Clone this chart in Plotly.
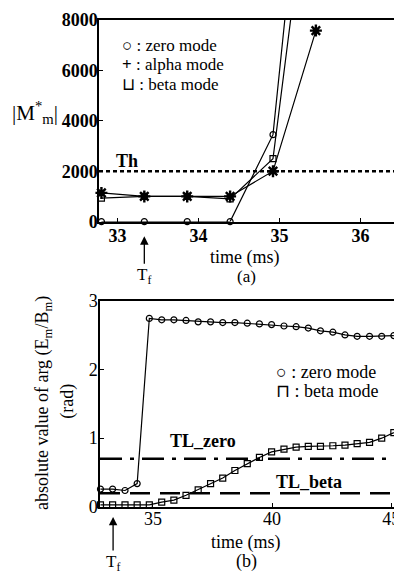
import plotly.graph_objects as go

# ---- data: panel (a) ----
t_a = [32.8, 33.33, 33.86, 34.39, 34.92, 35.45]
zero_a = [0, 0, 0, 0, 3450, 20000]
alpha_a = [1140, 1000, 1000, 1000, 2000, 7580]
beta_a = [930, 1000, 1000, 900, 2500, 15900]
th_a = 2000

# ---- data: panel (b) ----
t_b = [32.8, 33.31, 33.83, 34.34, 34.85, 35.37, 35.88, 36.39, 36.9, 37.42,
       37.93, 38.44, 38.96, 39.47, 39.98, 40.5, 41.01, 41.52, 42.03, 42.55,
       43.06, 43.57, 44.09, 44.6, 45.11]
zero_b = [0.26, 0.26, 0.24, 0.34, 2.74, 2.72, 2.72, 2.71, 2.69, 2.69,
          2.68, 2.68, 2.67, 2.66, 2.65, 2.63, 2.62, 2.60, 2.56, 2.54,
          2.50, 2.48, 2.48, 2.48, 2.49]
beta_b = [0.03, 0.03, 0.03, 0.03, 0.03, 0.07, 0.10, 0.17, 0.25, 0.34,
          0.42, 0.53, 0.63, 0.72, 0.80, 0.84, 0.87, 0.88, 0.88, 0.89,
          0.90, 0.92, 0.94, 1.00, 1.08]
tl_zero = 0.7
tl_beta = 0.2
t_f = 33.33

FONT = "Liberation Serif"
BLACK = "black"
FS = 18

fig = go.Figure()

line = dict(color=BLACK, width=1.2)
fig.add_trace(go.Scatter(x=t_a, y=beta_a, mode="lines+markers", line=line,
                         marker=dict(symbol="square-open", size=6, color=BLACK, line=dict(width=1.2)),
                         cliponaxis=False, xaxis="x", yaxis="y", showlegend=False))
fig.add_trace(go.Scatter(x=t_a, y=alpha_a, mode="lines+markers", line=line,
                         marker=dict(symbol="asterisk-open", size=10, color=BLACK, line=dict(width=2.4, color=BLACK)),
                         cliponaxis=False, xaxis="x", yaxis="y", showlegend=False))
fig.add_trace(go.Scatter(x=t_a, y=zero_a, mode="lines+markers", line=line,
                         marker=dict(symbol="circle-open", size=6, color=BLACK, line=dict(width=1.2)),
                         cliponaxis=False, xaxis="x", yaxis="y", showlegend=False))

fig.add_trace(go.Scatter(x=t_b, y=zero_b, mode="lines+markers", line=line,
                         marker=dict(symbol="circle-open", size=6, color=BLACK, line=dict(width=1.2)),
                         cliponaxis=False, xaxis="x2", yaxis="y2", showlegend=False))
fig.add_trace(go.Scatter(x=t_b, y=beta_b, mode="lines+markers", line=line,
                         marker=dict(symbol="square-open", size=6, color=BLACK, line=dict(width=1.2)),
                         cliponaxis=False, xaxis="x2", yaxis="y2", showlegend=False))

# threshold lines
fig.add_shape(type="line", xref="x domain", yref="y", x0=0, x1=1, y0=th_a, y1=th_a,
              line=dict(color=BLACK, width=2.5, dash="4px,3px"))
fig.add_shape(type="line", xref="x2 domain", yref="y2", x0=0, x1=1, y0=tl_zero, y1=tl_zero,
              line=dict(color=BLACK, width=2.5, dash="22px,8px,4px,8px"))
fig.add_shape(type="line", xref="x2 domain", yref="y2", x0=0, x1=1, y0=tl_beta, y1=tl_beta,
              line=dict(color=BLACK, width=2.5, dash="20px,10px"))

axis_common = dict(showline=True, linecolor=BLACK, linewidth=1.5, mirror=True,
                   ticks="inside", ticklen=4, tickcolor=BLACK, showgrid=False, zeroline=False,
                   ticklabeloverflow="allow")

tick_bold = dict(family=FONT, size=FS, color=BLACK, weight="bold")
tick_norm = dict(family=FONT, size=FS, color=BLACK)

# page has an 8px body margin: figure is placed at (8, 8)
fig.update_layout(
    width=394, height=565,
    margin=dict(l=91, r=2, t=6, b=66),
    paper_bgcolor="white", plot_bgcolor="white",
    font=dict(family=FONT, color=BLACK, size=FS),
    showlegend=False,
    xaxis=dict(domain=[0, 1], range=[32.77, 36.44], tickvals=[33, 34, 35, 36], anchor="y",
               tickfont=tick_bold, ticklabelstandoff=-3, **axis_common),
    yaxis=dict(domain=[0.586, 1], range=[0, 8000], tickvals=[0, 2000, 4000, 6000, 8000], anchor="x",
               tickfont=tick_bold, ticklabelstandoff=-4, **axis_common),
    xaxis2=dict(domain=[0.0033, 1], range=[32.78, 45.2], tickvals=[35, 40, 45], anchor="y2",
                tickfont=tick_norm, ticklabelstandoff=-5, **axis_common),
    yaxis2=dict(domain=[0, 0.424], range=[0, 3], tickvals=[0, 1, 2, 3], anchor="x2",
                tickfont=tick_norm, ticklabelstandoff=-3, **axis_common),
)

# page-pixel -> paper coordinates (plot area spans x 99..400, y 14..507 in page pixels)
def px_x(p):
    return (p - 99) / 301.0

def px_y(p):
    return (507 - p) / 493.0

ann = []
def txt(text, x, y, xanchor="center", size=FS, bold=False, angle=0):
    ann.append(dict(text=text, xref="paper", yref="paper", x=px_x(x), y=px_y(y),
                    xanchor=xanchor, yanchor="middle", showarrow=False, textangle=angle,
                    font=dict(family=FONT, size=size, color=BLACK, weight="bold" if bold else "normal")))

# panel (a) legend
txt("○ : zero mode", 120, 40, xanchor="left", size=17)
txt("<b>+</b> : alpha mode", 120, 59, xanchor="left", size=17)
txt("⊔ : beta mode", 120, 79, xanchor="left", size=17)
txt("Th", 114, 157, xanchor="left", bold=True)
txt("|M<sup>*</sup><sub>m</sub>|", 34, 108, size=21)
txt("time (ms)", 247, 254)
txt("(a)", 248, 274, size=17)

# panel (b)
txt("○ : zero mode", 276, 370, xanchor="left")
txt("⊓ : beta mode", 276, 390, xanchor="left")
txt("TL_zero", 169, 440, xanchor="left", bold=True)
txt("TL_beta", 276, 482, xanchor="left", bold=True)
txt("absolute value of arg (E<sub>m</sub>/B<sub>m</sub>)", 43, 402, angle=-90)
txt("(rad)", 67, 400, angle=-90)
txt("time (ms)", 248, 543)
txt("(b)", 248, 562)

# T_f arrows
ann.append(dict(text="T<sub>f</sub>", x=t_f, xref="x", y=px_y(233), yref="paper",
                ax=0, ay=40, showarrow=True, arrowhead=2, arrowsize=1.3, arrowwidth=1.3,
                arrowcolor=BLACK, standoff=0, font=dict(family=FONT, size=17, color=BLACK)))
ann.append(dict(text="T<sub>f</sub>", x=t_f, xref="x2", y=px_y(517), yref="paper",
                ax=0, ay=46, showarrow=True, arrowhead=2, arrowsize=1.3, arrowwidth=1.3,
                arrowcolor=BLACK, standoff=0, font=dict(family=FONT, size=17, color=BLACK)))

fig.update_layout(annotations=ann)

fig.write_html("out.html")
